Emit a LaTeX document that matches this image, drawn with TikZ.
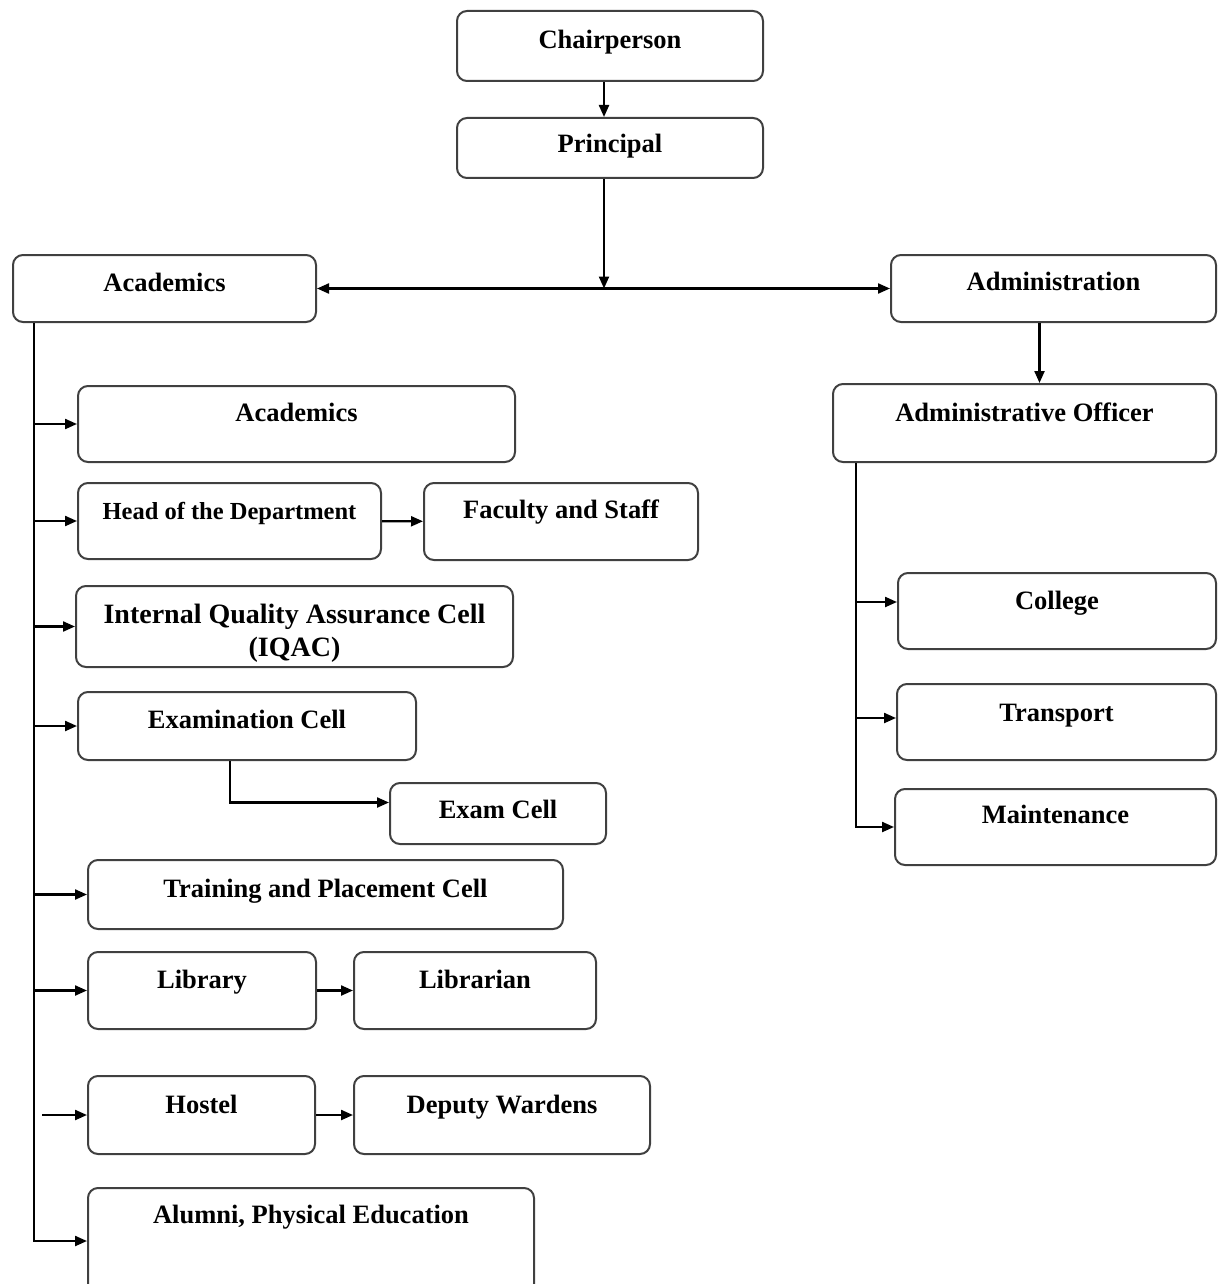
\documentclass[tikz,border=0pt]{standalone}
\usepackage{fontspec}
\setmainfont{Liberation Serif}
\usetikzlibrary{arrows.meta}

\begin{document}
\begin{tikzpicture}[x=1pt,y=-1pt,>={Triangle[length=12pt,width=10pt]},line width=2.2pt,
  box/.style={draw=black!75,line width=2pt,rounded corners=10pt,anchor=north west,inner sep=0pt,
    text height=36pt,font=\fontsize{26.5}{32}\selectfont\bfseries}]
  \path[clip,use as bounding box] (0,0) rectangle (1218,1284);

  \node[box,minimum width=306pt,text height=38pt,text depth=32pt] (chair) at (456,10) {Chairperson};
  \node[box,minimum width=306pt,text height=35pt,text depth=25pt] (prin) at (456,117) {Principal};
  \node[box,minimum width=303pt,text depth=31pt] (acad) at (12,254) {Academics};
  \node[box,minimum width=325pt,text height=35pt,text depth=32pt] (admin) at (890,254) {Administration};
  \node[box,minimum width=383pt,text height=37pt,text depth=41pt] (adoff) at (832,383) {Administrative Officer};

  % academics side
  \node[box,minimum width=437pt,text height=35pt,text depth=41pt] (acads) at (77,385) {Academics};
  \node[box,minimum width=303pt,text depth=40pt,font=\fontsize{24.5}{30}\selectfont\bfseries] (hod) at (77,482) {Head of the Department};
  \node[box,minimum width=274pt,text height=35pt,text depth=42pt] (fac) at (423,482) {Faculty and Staff};
  \node[box,minimum width=437pt,text height=37pt,text depth=44pt,font=\fontsize{28}{33}\selectfont\bfseries] (iqac) at (75,585)
    {\begin{tabular}[t]{@{}c@{}}Internal Quality Assurance Cell\\(IQAC)\end{tabular}};
  \node[box,minimum width=338pt,text depth=32pt] (exam) at (77,691) {Examination Cell};
  \node[box,minimum width=216pt,text height=35pt,text depth=26pt] (examc) at (389,782) {Exam Cell};
  \node[box,minimum width=475pt,text height=37pt,text depth=32pt] (train) at (87,859) {Training and Placement Cell};
  \node[box,minimum width=228pt,text depth=41pt] (lib) at (87,951) {Library};
  \node[box,minimum width=242pt,text depth=41pt] (libn) at (353,951) {Librarian};
  \node[box,minimum width=227pt,text height=37pt,text depth=41pt] (host) at (87,1075) {Hostel};
  \node[box,minimum width=296pt,text height=37pt,text depth=41pt] (dep) at (353,1075) {Deputy Wardens};
  \node[box,minimum width=446pt,text height=35pt,text depth=71pt] (alum) at (87,1187) {Alumni, Physical Education};

  % administration side
  \node[box,minimum width=318pt,text depth=40pt] (coll) at (897,572) {College};
  \node[box,minimum width=319pt,text height=37pt,text depth=39pt] (trans) at (896,683) {Transport};
  \node[box,minimum width=321pt,text height=34pt,text depth=42pt] (maint) at (894,788) {Maintenance};

  \coordinate (hub) at ([xshift=-6pt]prin.south |- acad.east);
  \coordinate (ltop) at ([xshift=22pt]acad.south west);
  \coordinate (rtop) at ([xshift=24pt]adoff.south west);

  \draw[->] ([xshift=-6pt]chair.south) -- ([xshift=-6pt]prin.north);
  \draw[->] ([xshift=-6pt]prin.south) -- (hub);
  \draw[<->] (acad) -- (admin);
  \draw[->] ([xshift=-14pt]admin.south) -- ([xshift=-14pt]admin.south |- adoff.north);

  \draw[->] (ltop) |- (alum.west);
  \foreach \n in {acads,hod,iqac,exam,train,lib}
    \draw[->] (ltop |- \n.west) -- (\n.west);
  \draw[<-] (host.west) -- ++(-45pt,0);
  \draw[->] (hod) -- (fac);
  \draw[->] (lib) -- (libn);
  \draw[->] (host) -- (dep);
  \draw[->] ([xshift=-17pt]exam.south) |- ([yshift=11pt]examc.west);

  \draw[->] (rtop) |- (maint.west);
  \draw[<-] ([yshift=9pt]coll.west) -- ++(-41pt,0);
  \draw[<-] ([yshift=4pt]trans.west) -- ++(-40pt,0);
\end{tikzpicture}
\end{document}
